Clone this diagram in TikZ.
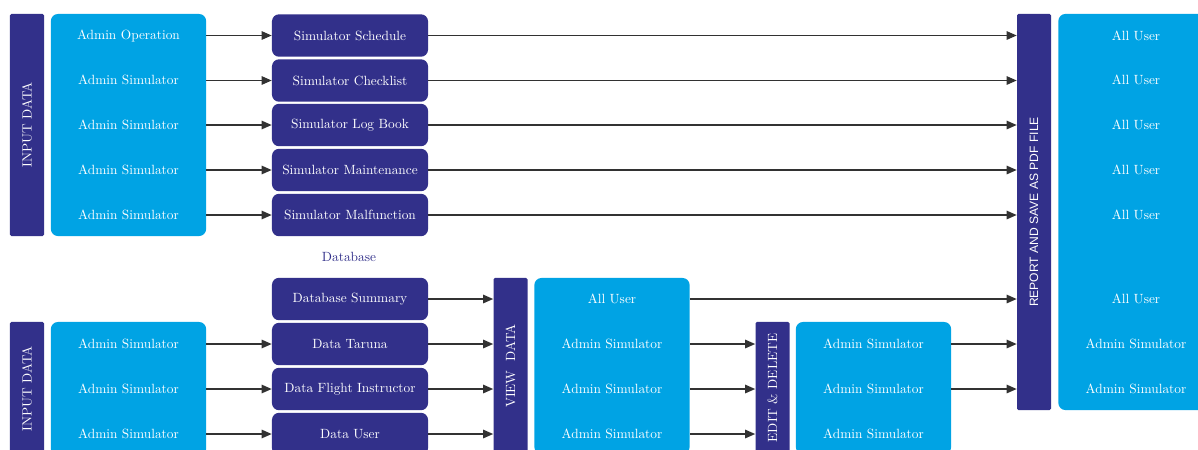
\documentclass[tikz,border=0pt]{standalone}
\usepackage{graphicx}
\usepackage{fontspec}
\newfontfamily\repfont{Liberation Sans}
\usetikzlibrary{arrows.meta}
\definecolor{navy}{RGB}{50,48,138}
\definecolor{sky}{RGB}{0,163,228}
\definecolor{lin}{RGB}{50,50,50}
\begin{document}
\begin{tikzpicture}[x=0.025cm,y=-0.025cm,font=\fontsize{9.5}{11}\selectfont,
    bar/.style={rectangle,fill=navy,rounded corners=1pt,text=white,inner sep=0pt,minimum width=0.85cm},
    grp/.style={rectangle,fill=sky,rounded corners=5pt,inner sep=0pt,minimum width=3.88cm},
    db/.style={rectangle,fill=navy,rounded corners=5pt,text=white,inner sep=0pt,minimum width=3.9cm,minimum height=1.06cm},
    lbl/.style={text=white,inner sep=1pt},
    arr/.style={draw=lin,line width=1pt,-{Triangle[length=2.5mm,width=2.1mm]}}]
    \clip (0,0) rectangle (1198,449);
    % upper part
    \node[bar,minimum height=5.55cm] (inA) at (27,125) {\rotatebox{90}{INPUT DATA}};
    \node[grp,minimum height=5.55cm] (usrA) at (128.5,125) {};
    \node[lbl] (a1) at (128.5,36) {Admin Operation};
    \node[lbl] (a2) at (128.5,80) {Admin Simulator};
    \node[lbl] (a3) at (128.5,125) {Admin Simulator};
    \node[lbl] (a4) at (128.5,170) {Admin Simulator};
    \node[lbl] (a5) at (128.5,215) {Admin Simulator};
    \node[db] (sch) at (350,35.5) {Simulator Schedule};
    \node[db] (chk) at (350,80.5) {Simulator Checklist};
    \node[db] (log) at (350,125) {Simulator Log Book};
    \node[db] (mnt) at (350,170) {Simulator Maintenance};
    \node[db] (mal) at (350,215) {Simulator Malfunction};
    \node[text=navy] (dbl) at (349,257) {Database};
    % lower part
    \node[bar,minimum height=3.35cm] (inB) at (27,389) {\rotatebox{90}{INPUT DATA}};
    \node[grp,minimum height=3.35cm] (usrB) at (128.5,389) {};
    \node[lbl] (b1) at (128.5,344) {Admin Simulator};
    \node[lbl] (b2) at (128.5,389) {Admin Simulator};
    \node[lbl] (b3) at (128.5,434) {Admin Simulator};
    \node[db] (sum) at (350,299) {Database Summary};
    \node[db] (tar) at (350,344) {Data Taruna};
    \node[db] (fli) at (350,389) {Data Flight Instructor};
    \node[db] (usr) at (350,434) {Data User};
    \node[bar,minimum height=4.4cm] (view) at (510.5,366) {\rotatebox{90}{VIEW\ \ DATA}};
    \node[grp,minimum height=4.4cm] (vw) at (612,366) {};
    \node[lbl] (v1) at (612,299) {All User};
    \node[lbl] (v2) at (612,344) {Admin Simulator};
    \node[lbl] (v3) at (612,389) {Admin Simulator};
    \node[lbl] (v4) at (612,434) {Admin Simulator};
    \node[bar,minimum height=3.3cm] (edit) at (772.5,388) {\rotatebox{90}{EDIT \& DELETE}};
    \node[grp,minimum height=3.3cm] (ed) at (873.5,388) {};
    \node[lbl] (e1) at (873.5,344) {Admin Simulator};
    \node[lbl] (e2) at (873.5,389) {Admin Simulator};
    \node[lbl] (e3) at (873.5,434) {Admin Simulator};
    % output
    \node[bar,minimum height=9.9cm] (rep) at (1034,212) {\rotatebox{90}{\repfont\fontsize{8.6}{10}\selectfont REPORT AND SAVE AS PDF FILE}};
    \node[grp,minimum height=9.9cm] (out) at (1136,212) {};
    \node[lbl] (o1) at (1136,36) {All User};
    \node[lbl] (o2) at (1136,80) {All User};
    \node[lbl] (o3) at (1136,125) {All User};
    \node[lbl] (o4) at (1136,170) {All User};
    \node[lbl] (o5) at (1136,215) {All User};
    \node[lbl] (o6) at (1136,299) {All User};
    \node[lbl] (o7) at (1136,344) {Admin Simulator};
    \node[lbl] (o8) at (1136,389) {Admin Simulator};
    % connectors
    \draw[arr] (sch.west -| usrA.east) -- (sch.west);
    \draw[arr] (chk.west -| usrA.east) -- (chk.west);
    \draw[arr] (log.west -| usrA.east) -- (log.west);
    \draw[arr] (mnt.west -| usrA.east) -- (mnt.west);
    \draw[arr] (mal.west -| usrA.east) -- (mal.west);
    \draw[arr] (sch.east) -- (sch.east -| rep.west);
    \draw[arr] (chk.east) -- (chk.east -| rep.west);
    \draw[arr] (log.east) -- (log.east -| rep.west);
    \draw[arr] (mnt.east) -- (mnt.east -| rep.west);
    \draw[arr] (mal.east) -- (mal.east -| rep.west);
    \draw[arr] (tar.west -| usrB.east) -- (tar.west);
    \draw[arr] (fli.west -| usrB.east) -- (fli.west);
    \draw[arr] (usr.west -| usrB.east) -- (usr.west);
    \draw[arr] (sum.east) -- (sum.east -| view.west);
    \draw[arr] (tar.east) -- (tar.east -| view.west);
    \draw[arr] (fli.east) -- (fli.east -| view.west);
    \draw[arr] (usr.east) -- (usr.east -| view.west);
    \draw[arr] (v1 -| vw.east) -- (v1 -| rep.west);
    \draw[arr] (v2 -| vw.east) -- (v2 -| edit.west);
    \draw[arr] (v3 -| vw.east) -- (v3 -| edit.west);
    \draw[arr] (v4 -| vw.east) -- (v4 -| edit.west);
    \draw[arr] (e1 -| ed.east) -- (e1 -| rep.west);
    \draw[arr] (e2 -| ed.east) -- (e2 -| rep.west);
\end{tikzpicture}
\end{document}
